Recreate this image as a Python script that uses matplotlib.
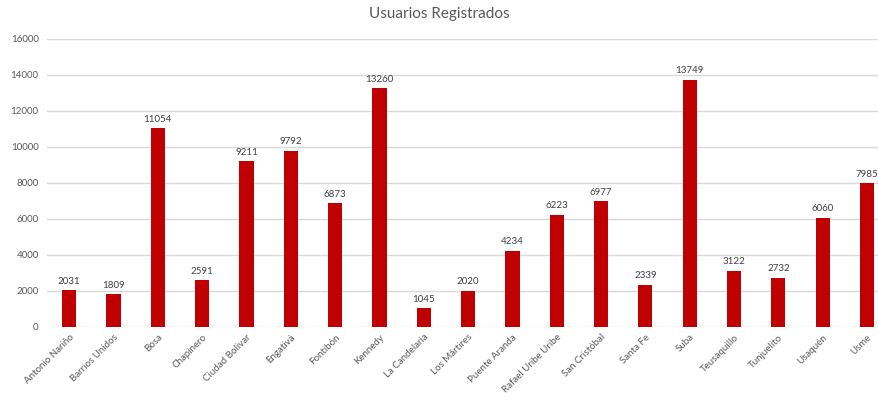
import matplotlib
matplotlib.use("Agg")
import matplotlib.pyplot as plt
import numpy as np

localidades = [
    "Antonio Nariño", "Barrios Unidos", "Bosa", "Chapinero", "Ciudad Bolivar",
    "Engativá", "Fontibón", "Kennedy", "La Candelaria", "Los Mártires",
    "Puente Aranda", "Rafael Uribe Uribe", "San Cristóbal", "Santa Fe", "Suba",
    "Teusaquillo", "Tunjuelito", "Usaquén", "Usme",
]
usuarios = [2031, 1809, 11054, 2591, 9211, 9792, 6873, 13260, 1045, 2020,
            4234, 6223, 6977, 2339, 13749, 3122, 2732, 6060, 7985]
yticks = [0, 2000, 4000, 6000, 8000, 10000, 12000, 14000, 16000]

plt.rcParams["font.family"] = ["Lato", "DejaVu Sans"]
gray = "#595959"

fig = plt.figure(figsize=(8.79, 4.0), dpi=100)
ax = fig.add_axes([47 / 879, 0.1825, 832 / 879, 0.72])

x = np.arange(len(localidades))
bars = ax.bar(x, usuarios, width=0.32, color="#C00000", zorder=3)
for b, v in zip(bars, usuarios):
    ax.text(b.get_x() + b.get_width() / 2, v + 250, str(v),
            ha="center", va="bottom", fontsize=7, color="#404040")

ax.set_ylim(0, 16000)
ax.set_xlim(-0.5, 18.27)
ax.set_yticks(yticks)
ax.set_yticklabels([str(t) for t in yticks], fontsize=7, color=gray)
ax.set_xticks(x)
ax.set_xticklabels(localidades, rotation=45, ha="right", rotation_mode="anchor",
                   fontsize=7, color=gray)
ax.tick_params(length=0, pad=6)
ax.tick_params(axis="x", pad=4)
ax.grid(axis="y", color="#D9D9D9", lw=1, zorder=0)
for s in ax.spines.values():
    s.set_visible(False)

fig.text(0.5, 0.965, "Usuarios Registrados", ha="center", va="center",
         fontsize=11, color=gray)

fig.savefig("out.png", dpi=100)
